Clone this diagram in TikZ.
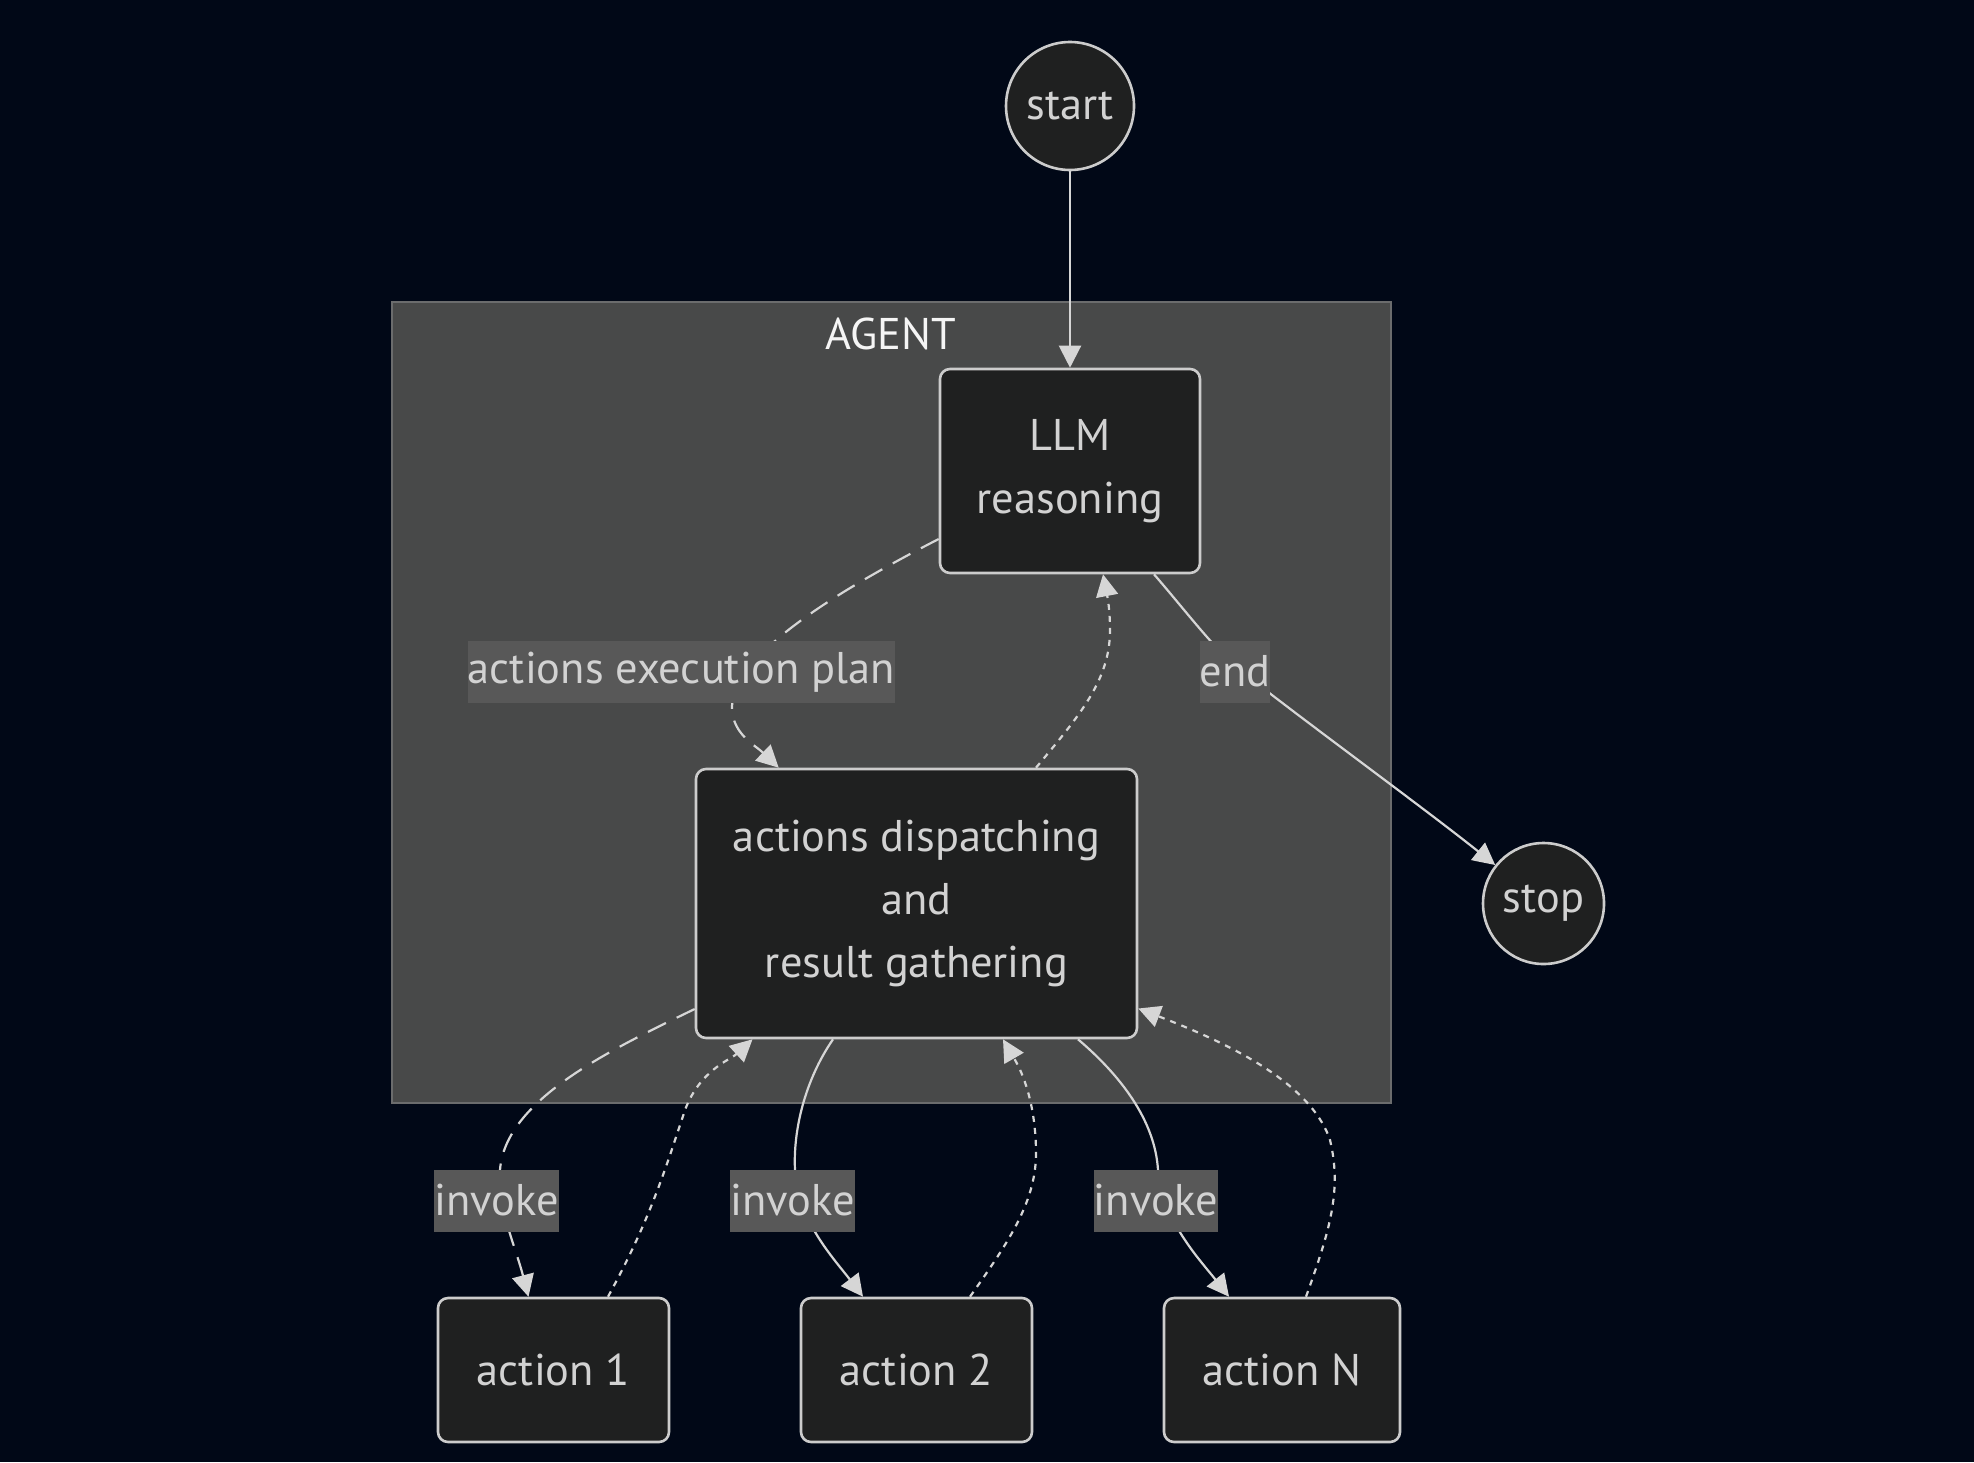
\documentclass[tikz,border=0pt]{standalone}
\usepackage{fontspec}
\setmainfont{PT Sans}
\usetikzlibrary{arrows.meta,calc}
\definecolor{bg}{HTML}{010817}
\definecolor{clfill}{HTML}{484949}
\definecolor{cldraw}{HTML}{6B6C6D}
\definecolor{nfill}{HTML}{1F2020}
\definecolor{ndraw}{HTML}{CCCCCC}
\definecolor{ntext}{HTML}{D2D2D2}
\definecolor{lblfill}{HTML}{585858}
\definecolor{edgec}{HTML}{D6D6D6}
\definecolor{titlec}{HTML}{F5F5F5}
\begin{document}
\begin{tikzpicture}[x=0.5pt,y=-0.5pt,
  txt/.style={font=\fontsize{22.2}{31.5}\selectfont},
  box/.style={txt, draw=ndraw, fill=nfill, line width=1.3pt, rounded corners=5pt, text=ntext, align=center, inner sep=0pt},
  circ/.style={txt, circle, draw=ndraw, fill=nfill, line width=1.3pt, text=ntext, inner sep=0pt},
  lbl/.style={txt, fill=lblfill, text=ntext, inner sep=0pt, minimum height=31pt},
  cluster/.style={draw=cldraw, fill=clfill, line width=0.7pt, inner sep=0pt},
  edge/.style={draw=edgec, line width=1.1pt, -{Triangle[length=11pt,width=11pt]}},
  longdash/.style={dash pattern=on 10pt off 6pt},
  dots/.style={dash pattern=on 3pt off 3pt}]
\fill[bg] (0,0) rectangle (1974,1462);
\useasboundingbox (0,0) rectangle (1974,1462);

% cluster
\node[cluster, minimum width=499.5pt, minimum height=400.5pt] (agentbox) at (891.5,702.5) {};
\node[txt, text=titlec, inner sep=0pt] (agenttitle) at (891,334) {AGENT};

% nodes
\node[circ, minimum size=64pt] (start) at (1070,106) {start};
\node[box, minimum width=130pt, minimum height=102pt] (llm) at (1070,471) {LLM\\reasoning};
\node[box, minimum width=220.5pt, minimum height=134.5pt] (disp) at (916.5,903.5) {actions dispatching\\and\\result gathering};
\node[circ, minimum size=60.5pt] (stop) at (1543.5,903.5) {stop};
\node[box, minimum width=115.5pt, minimum height=72pt] (act1) at (553.5,1370) {action 1};
\node[box, minimum width=115.5pt, minimum height=72pt] (act2) at (916.5,1370) {action 2};
\node[box, minimum width=118pt, minimum height=72pt] (actN) at (1282,1370) {action N};

% edges
\draw[edge] (start) -- (llm);
\draw[edge,longdash] ($(llm.west)+(0,68)$) .. controls (820,600) and (730,660) .. (732,710)
  .. controls (734,735) and (755,745) .. ($(disp.north west)+(84,0)$);
\draw[edge,dots] ($(disp.north)+(119.5,0)$) .. controls (1080,715) and (1110,680) .. (1110,630)
  .. controls (1110,605) and (1106,590) .. ($(llm.south)+(33,0)$);
\draw[edge] ($(llm.south)+(84,0)$) .. controls (1185,610) and (1215,650) .. (1240,670)
  .. controls (1300,718) and (1420,805) .. (stop);
\draw[edge,longdash] ($(disp.west)+(0,105.5)$) .. controls (610,1050) and (505,1100) .. (500,1170)
  .. controls (498,1210) and (515,1245) .. ($(act1.north)+(-25,0)$);
\draw[edge,dots] ($(act1.north)+(54.5,0)$) .. controls (650,1220) and (665,1170) .. (685,1110)
  .. controls (700,1070) and (730,1060) .. ($(disp.south)+(-164,0)$);
\draw[edge] ($(disp.south)+(-83.5,0)$) .. controls (805,1080) and (793,1130) .. (795,1170)
  .. controls (797,1220) and (835,1260) .. ($(act2.north)+(-53.5,0)$);
\draw[edge,dots] ($(act2.north)+(53.5,0)$) .. controls (1010,1240) and (1037,1200) .. (1036,1150)
  .. controls (1035,1090) and (1015,1060) .. ($(disp.south)+(86.5,0)$);
\draw[edge] ($(disp.south)+(161.5,0)$) .. controls (1120,1075) and (1155,1120) .. (1158,1170)
  .. controls (1162,1220) and (1200,1260) .. ($(actN.north)+(-53,0)$);
\draw[edge,dots] ($(actN.north)+(24,0)$) .. controls (1330,1230) and (1342,1190) .. (1330,1140)
  .. controls (1310,1080) and (1220,1040) .. ($(disp.east)+(0,105)$);

% edge labels
\node[lbl, minimum width=212.5pt] (laep) at (681.5,672) {actions execution plan};
\node[lbl, minimum width=34pt] (lend) at (1235,671.5) {end};
\node[lbl, minimum width=60.5pt] (linv1) at (496.5,1200.5) {invoke};
\node[lbl, minimum width=60.5pt] (linv2) at (792.5,1200.5) {invoke};
\node[lbl, minimum width=60.5pt] (linv3) at (1156,1200.5) {invoke};
\end{tikzpicture}
\end{document}
